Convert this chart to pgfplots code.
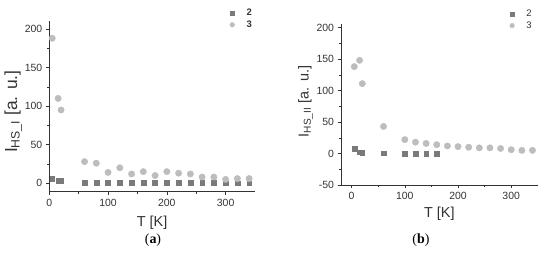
\documentclass[border=0pt]{standalone}
\usepackage{fontspec}
\setmainfont{Liberation Sans}
\newfontfamily\capfont{Liberation Serif}
\usepackage{pgfplots}
\pgfplotsset{compat=1.18}

\definecolor{sqgray}{HTML}{7A7A7A}
\definecolor{cigray}{HTML}{BDBDBD}
\definecolor{axgray}{HTML}{333333}

\pgfplotsset{
  panel/.style={
    scale only axis,
    axis x line*=bottom, axis y line*=left,
    axis line style={axgray, line width=0.6pt},
    tick style={axgray, line width=0.5pt},
    tick align=outside,
    major tick length=3.5bp, minor tick length=2bp,
    minor x tick num=1, minor y tick num=1,
    xtick={0,100,200,300}, ytick={-50,0,50,...,200},
    /pgf/number format/assume math mode=true,
    tick label style={font=\fontsize{10.5}{12}\selectfont, text=axgray},
    label style={font=\fontsize{14.5}{16}\selectfont, text=axgray},
    legend style={draw=none, fill=none, anchor=north east,
      font=\fontsize{9.5}{10}\selectfont, text=axgray,
      row sep=-0.5bp, inner sep=1bp,
      /tikz/every odd column/.append style={column sep=10bp}},
    legend image post style={mark options={scale=0.72}},
    legend cell align=left,
  },
  sq/.style={only marks, mark=square*, mark size=2.4bp, sqgray},
  ci/.style={only marks, mark=*, mark size=3.2bp, cigray},
}

\begin{document}
\begin{tikzpicture}
\path[use as bounding box] (0,0) rectangle (550bp,253bp);

% ---- panel (a)
\begin{axis}[panel,
  at={(49.3bp,61.3bp)}, anchor=south west,
  width=205.7bp, height=170.4bp,
  xmin=0, xmax=350, ymin=-11, ymax=210,
  xlabel={T [K]}, ylabel={I\textsubscript{HS\_I} [a. u.]},
  xlabel style={at={(axis description cs:0.5,-0.18)}, anchor=center},
  ylabel style={at={(axis description cs:-0.175,0.47)}, anchor=center,
    font=\fontsize{17.5}{19}\selectfont},
  legend style={at={(axis description cs:1.0,1.09)}, font=\bfseries\fontsize{9.5}{10}\selectfont},
]
\addplot[sq] coordinates {
  (5,6) (15,3.5) (20,3.5) (60,1) (80,1) (100,0.5) (120,0.5) (140,0.5)
  (160,0.5) (180,0.5) (200,0.5) (220,0.5) (240,0.5) (260,0.5) (280,0.5)
  (300,0) (320,0) (340,0)
};
\addlegendentry{2}
\addplot[ci] coordinates {
  (5,188) (15,110) (20,95) (60,28) (80,26) (100,14) (120,20) (140,12)
  (160,15) (180,10) (200,15) (220,13) (240,12) (260,8) (280,8) (300,5)
  (320,6) (340,6)
};
\addlegendentry{3}
\end{axis}
\node[font=\capfont\fontsize{14}{15}\selectfont] at (153bp,13bp) {(\textbf{a})};

% ---- panel (b)
\begin{axis}[panel,
  at={(341bp,68bp)}, anchor=south west,
  width=196.8bp, height=160.6bp,
  xmin=-20, xmax=350, ymin=-50, ymax=205,
  xlabel={T [K]}, ylabel={I\textsubscript{HS\_II} [a. u.]},
  xlabel style={at={(axis description cs:0.5,-0.18)}, anchor=center},
  ylabel style={at={(axis description cs:-0.18,0.52)}, anchor=center},
  legend style={at={(axis description cs:0.985,1.11)}},
]
\addplot[sq] coordinates {
  (5,8) (15,2) (20,1.5) (60,0.5) (100,0) (120,0) (140,0) (160,0)
};
\addlegendentry{2}
\addplot[ci] coordinates {
  (5,138) (15,148) (20,111) (60,43) (100,22) (120,18) (140,16) (160,14)
  (180,12) (200,11) (220,10) (240,9) (260,9) (280,8) (300,6) (320,5) (340,5)
};
\addlegendentry{3}
\end{axis}
\node[font=\capfont\fontsize{14}{15}\selectfont] at (421bp,13bp) {(\textbf{b})};
\end{tikzpicture}
\end{document}
